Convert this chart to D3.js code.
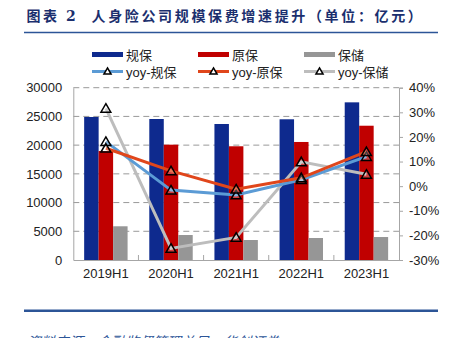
<!DOCTYPE html>
<html><head><meta charset="utf-8">
<script src="https://cdn.jsdelivr.net/npm/d3@7"></script>
<style>
html,body{margin:0;padding:0;background:#fff;}
svg{display:block;}
</style></head>
<body>
<script>
const categories = ["2019H1","2020H1","2021H1","2022H1","2023H1"];
const barSeries = ["规保","原保","保储"];
const scaleValues = [24900, 24550, 23680, 24500, 27450];
const origValues = [18980, 20080, 19800, 20550, 23380];
const depValues = [5870, 4350, 3480, 3830, 4000];
const yoyScale = [18.1, -1.6, -3.6, 2.6, 12.0];
const yoyOrig = [15.4, 6.2, -1.2, 3.4, 14.0];
const yoyDep = [31.6, -25.3, -20.8, 9.9, 4.8];
const leftTicks = [0,5000,10000,15000,20000,25000,30000];
const rightTicks = [-30,-20,-10,0,10,20,30,40];

const W = 451, H = 338;
const svg = d3.select("body").append("svg").attr("width", W).attr("height", H);
const font = "'Liberation Sans', Arial, sans-serif";
const cjk = "'Noto Sans CJK SC', sans-serif";
const mixed = "'Liberation Sans', 'Noto Sans CJK SC', sans-serif";

// title
const tcol = "#1b2f6e";
svg.append("text").attr("x", 26.5).attr("y", 21).attr("font-family", cjk).attr("font-weight","bold")
  .attr("font-size", 14).attr("letter-spacing", 2.6).attr("fill", tcol).text("图表");
svg.append("text").attr("x", 66).attr("y", 21).attr("font-family", "'DejaVu Serif', serif").attr("font-weight","bold")
  .attr("font-size", 14).attr("fill", tcol).text("2");
svg.append("text").attr("x", 91.5).attr("y", 21).attr("font-family", cjk).attr("font-weight","bold")
  .attr("font-size", 14).attr("letter-spacing", 2.65).attr("fill", tcol).text("人身险公司规模保费增速提升（单位：亿元）");
svg.append("line").attr("x1", 24).attr("x2", 438).attr("y1", 32.5).attr("y2", 32.5).attr("stroke", "#2c5597").attr("stroke-width", 1.5);

// scales
const x = d3.scaleBand().domain(categories).range([73.3, 399]);
const bw = x.bandwidth();
const xs = d3.scaleBand().domain(barSeries).range([bw/6, bw*5/6]);
const y = d3.scaleLinear().domain([0, 30000]).range([260, 87.7]);
const yr = d3.scaleLinear().domain([-30, 40]).range([260, 87.7]);

// gridlines
svg.append("g").selectAll("line").data(leftTicks.filter(d => d > 0)).join("line")
  .attr("x1", 73.3).attr("x2", 399).attr("y1", d => y(d)).attr("y2", d => y(d))
  .attr("stroke", "#999").attr("stroke-width", 1).attr("stroke-dasharray", "6,4");

// bars
const barColors = {"规保":"#0e2a8e","原保":"#c00000","保储":"#969696"};
const barData = [];
categories.forEach((c, i) => {
  barData.push({c, s:"规保", v: scaleValues[i]});
  barData.push({c, s:"原保", v: origValues[i]});
  barData.push({c, s:"保储", v: depValues[i]});
});
svg.append("g").selectAll("rect").data(barData).join("rect")
  .attr("x", d => x(d.c) + xs(d.s)).attr("width", xs.bandwidth())
  .attr("y", d => y(d.v)).attr("height", d => y(0) - y(d.v))
  .attr("fill", d => barColors[d.s]);

// axes
const axCol = "#a6a6a6";
const gl = svg.append("g").attr("transform", "translate(73.3,0)")
  .call(d3.axisLeft(y).tickValues(leftTicks).tickSize(0).tickPadding(11).tickFormat(d3.format("d")));
gl.select(".domain").attr("stroke", axCol);
gl.selectAll("text").attr("font-family", font).attr("font-size", 13).attr("fill", "#222");

const gr = svg.append("g").attr("transform", "translate(399,0)")
  .call(d3.axisRight(yr).tickValues(rightTicks).tickSize(4).tickPadding(6).tickFormat(d => d + "%"));
gr.select(".domain").attr("stroke", axCol);
gr.selectAll("line").attr("stroke", axCol);
gr.selectAll("text").attr("font-family", font).attr("font-size", 13).attr("fill", "#222");

const gx = svg.append("g").attr("transform", "translate(0,260)")
  .call(d3.axisBottom(x).tickSize(0).tickPadding(9));
gx.select(".domain").attr("stroke", axCol);
gx.selectAll("text").attr("font-family", font).attr("font-size", 13).attr("fill", "#222");
svg.append("g").selectAll("line").data(categories.slice(1)).join("line")
  .attr("x1", d => x(d)).attr("x2", d => x(d)).attr("y1", 260).attr("y2", 255)
  .attr("stroke", axCol);

// lines
const tri = d3.symbol().type(d3.symbolTriangle).size(42);
const lineSeries = [
  {name:"yoy-规保", vals: yoyScale, color:"#5b9bd5"},
  {name:"yoy-原保", vals: yoyOrig, color:"#e0461b"},
  {name:"yoy-保储", vals: yoyDep, color:"#bdbdbd"}
];
const lineGen = d3.line().x((d, i) => x(categories[i]) + bw/2).y(d => yr(d));
const drawOrder = [lineSeries[2], lineSeries[0], lineSeries[1]];
drawOrder.forEach(s => {
  svg.append("path").attr("d", lineGen(s.vals)).attr("fill", "none")
    .attr("stroke", s.color).attr("stroke-width", 3);
});
drawOrder.forEach(s => {
  svg.append("g").selectAll("path").data(s.vals).join("path")
    .attr("d", tri)
    .attr("transform", (d, i) => `translate(${x(categories[i]) + bw/2},${yr(d) + 1})`)
    .attr("fill", "#fff").attr("fill-opacity", 0.25).attr("stroke", "#000").attr("stroke-width", 1.5);
});

// legend
const legX = [92, 198, 304];
barSeries.forEach((s, i) => {
  svg.append("rect").attr("x", legX[i]).attr("y", 52).attr("width", 31).attr("height", 5).attr("fill", barColors[s]);
  svg.append("text").attr("x", legX[i] + 34).attr("y", 59.5).attr("font-family", mixed)
    .attr("font-size", 13).attr("fill", "#222").text(s);
});
lineSeries.forEach((s, i) => {
  svg.append("line").attr("x1", legX[i]).attr("x2", legX[i] + 31).attr("y1", 71.5).attr("y2", 71.5)
    .attr("stroke", s.color).attr("stroke-width", 3);
  svg.append("path").attr("d", d3.symbol().type(d3.symbolTriangle).size(22))
    .attr("transform", `translate(${legX[i] + 15.5},${72})`).attr("fill", "#fff").attr("stroke", "#000").attr("stroke-width", 1.5);
  svg.append("text").attr("x", legX[i] + 34).attr("y", 76.5).attr("font-family", mixed)
    .attr("font-size", 13).attr("fill", "#222").text(s.name);
});

// bottom rule and source
svg.append("line").attr("x1", 24).attr("x2", 438).attr("y1", 310.7).attr("y2", 310.7).attr("stroke", "#2c5597").attr("stroke-width", 2.5);
svg.append("text").attr("x", 27).attr("y", 347).attr("font-family", cjk).attr("font-style", "italic")
  .attr("font-size", 14).attr("fill", "#2c5597").text("资料来源：金融监督管理总局，华创证券");
</script>
</body></html>
